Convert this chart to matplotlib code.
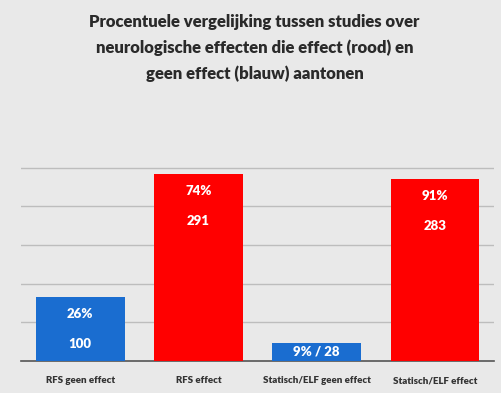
import matplotlib
matplotlib.use('Agg')
import matplotlib.pyplot as plt

categories = ['RFS geen effect', 'RFS effect', 'Statisch/ELF geen effect', 'Statisch/ELF effect']
counts = [100, 291, 28, 283]
percents = [26, 74, 9, 91]
colors = ['#1a6dd0', '#ff0000', '#1a6dd0', '#ff0000']

plt.rcParams['font.family'] = ['Lato', 'DejaVu Sans']

fig = plt.figure(figsize=(5.02, 3.93), dpi=100, facecolor='#e9e9e9')
ax = fig.add_axes([0.042, 0.0814, 0.942, 0.541])
ax.set_facecolor('#e9e9e9')

x = range(len(categories))
bars = ax.bar(x, counts, width=0.75, color=colors, zorder=3)

# value labels inside the bars, white
for i, b in enumerate(bars):
    cx = b.get_x() + b.get_width() / 2
    top = b.get_height()
    if counts[i] < 60:
        ax.text(cx, top / 2, f'{percents[i]}% / {counts[i]}', color='white',
                ha='center', va='center', fontsize=9.5, fontweight='heavy', zorder=4)
    else:
        ax.text(cx, top - 27, f'{percents[i]}%', color='white',
                ha='center', va='center', fontsize=9.5, fontweight='heavy', zorder=4)
        ax.text(cx, top - 73, f'{counts[i]}', color='white',
                ha='center', va='center', fontsize=9.5, fontweight='heavy', zorder=4)

ax.set_ylim(0, 330)
ax.set_xlim(-0.5, 3.5)
ax.set_yticks([60, 120, 180, 240, 300])
ax.set_yticklabels([])
ax.tick_params(axis='y', length=0)
ax.tick_params(axis='x', length=0, pad=11)
ax.grid(axis='y', color='#bdbdbd', linewidth=1, zorder=0)
ax.set_xticks(list(x))
ax.set_xticklabels(categories, fontsize=7, fontweight='heavy', color='#333333')
for s in ['top', 'right', 'left']:
    ax.spines[s].set_visible(False)
ax.spines['bottom'].set_color('#555555')
ax.spines['bottom'].set_linewidth(1.2)

fig.text(0.507, 0.964, 'Procentuele vergelijking tussen studies over\n'
         'neurologische effecten die effect (rood) en\n'
         'geen effect (blauw) aantonen',
         ha='center', va='top', fontsize=12, fontweight='heavy', color='#2a2a2a',
         linespacing=1.68)

fig.savefig('out.png', dpi=100, facecolor=fig.get_facecolor())
